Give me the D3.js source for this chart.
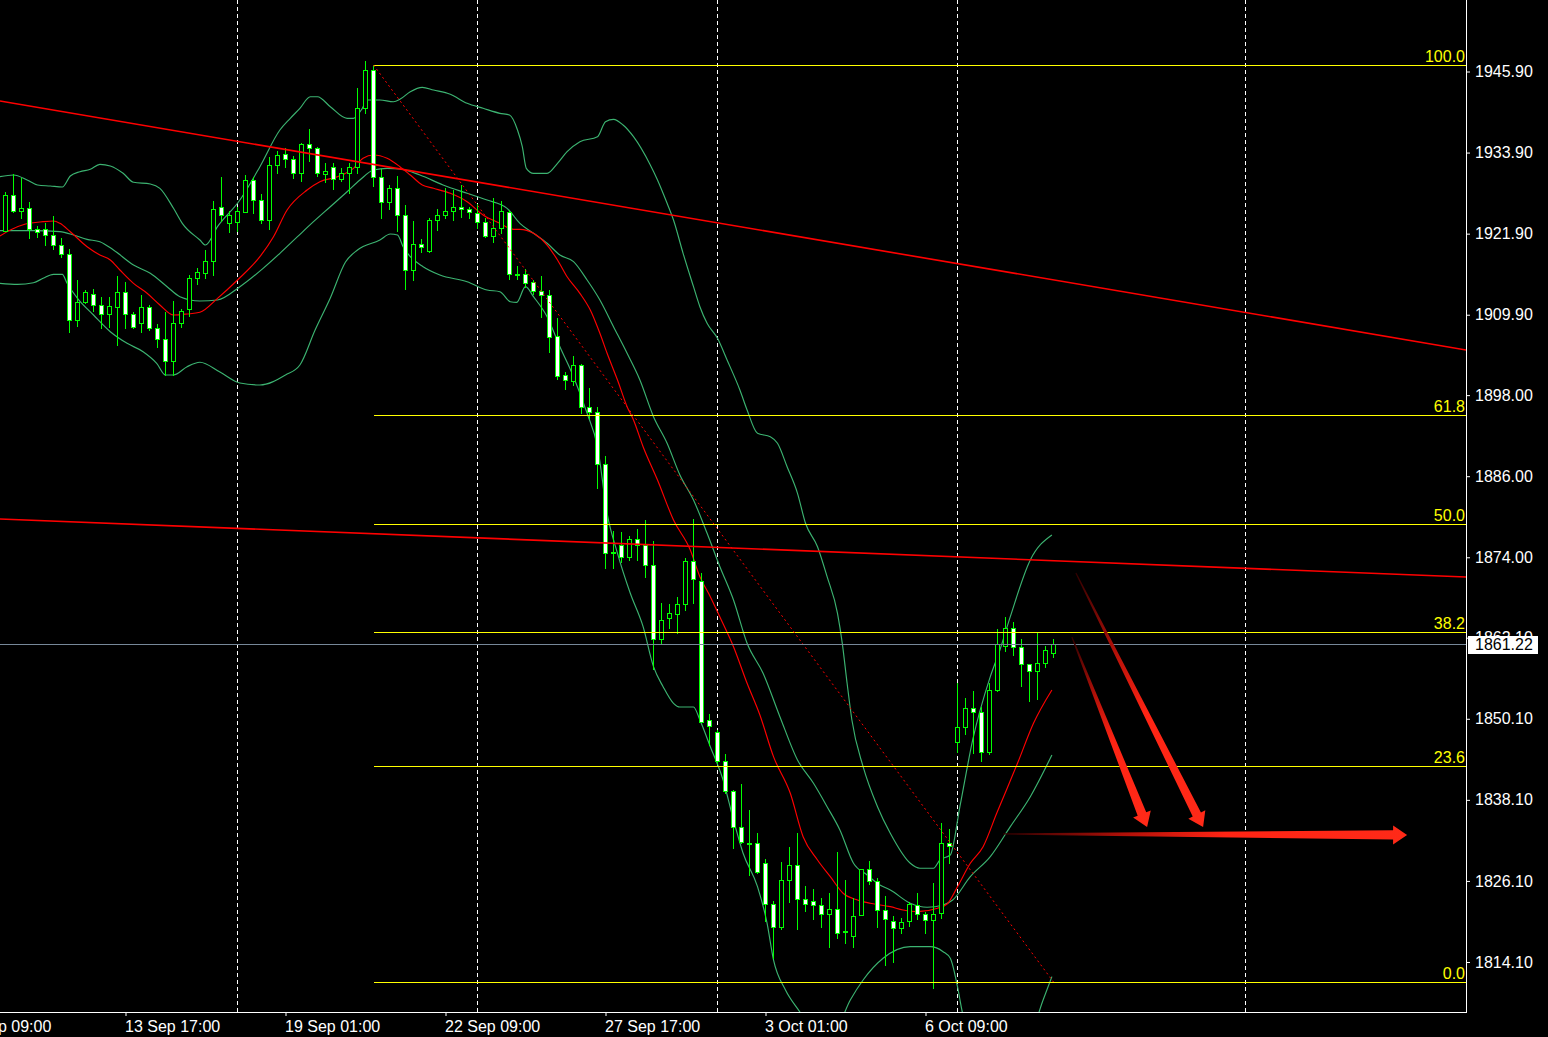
<!DOCTYPE html>
<html><head><meta charset="utf-8">
<script src="https://cdn.jsdelivr.net/npm/d3@7"></script>
<style>
html,body{margin:0;padding:0;background:#000;overflow:hidden;}
svg{display:block;}
</style></head><body>
<svg id="chart" width="1548" height="1037"></svg>
<script>
// ---------------- DATA ----------------
const opens = [1922.34,1927.58,1925.21,1925.65,1922.54,1922.54,1921.66,1920.18,1918.84,1909.08,1911.83,1912.92,1911.30,1910.05,1911.09,1913.22,1909.96,1908.63,1911.04,1907.89,1906.26,1903.01,1908.68,1910.70,1915.29,1916.12,1917.90,1925.80,1923.43,1923.58,1925.10,1929.80,1926.84,1923.88,1932.02,1933.64,1932.90,1930.83,1935.12,1934.53,1930.68,1931.72,1929.94,1930.83,1931.72,1940.45,1946.08,1930.33,1926.63,1928.61,1924.62,1916.48,1920.32,1919.38,1923.88,1924.62,1925.30,1925.80,1925.50,1924.91,1923.58,1921.60,1922.69,1925.06,1915.74,1915.88,1914.70,1913.37,1912.78,1906.71,1900.94,1900.14,1902.46,1896.20,1895.46,1887.76,1874.59,1875.78,1874.00,1876.75,1875.87,1872.82,1861.86,1864.97,1865.56,1867.04,1873.41,1870.45,1849.88,1848.10,1843.81,1839.37,1834.04,1831.63,1831.68,1828.71,1822.64,1819.24,1826.20,1828.42,1823.38,1823.09,1822.50,1821.16,1821.90,1818.50,1818.00,1821.10,1827.82,1826.05,1821.76,1820.22,1819.09,1820.17,1822.50,1821.16,1820.32,1821.31,1831.68,1846.62,1848.84,1851.65,1851.06,1845.14,1854.32,1860.92,1863.58,1860.68,1858.16,1857.22,1858.31,1859.79];
const highs = [1928.02,1930.73,1930.09,1926.54,1923.03,1923.43,1924.51,1921.21,1919.63,1915.04,1913.56,1913.71,1912.52,1912.52,1915.63,1914.74,1910.30,1912.82,1911.34,1908.53,1910.30,1911.89,1910.79,1915.78,1916.82,1919.48,1926.73,1930.33,1925.21,1925.89,1930.58,1930.33,1927.72,1933.29,1934.18,1934.53,1933.39,1935.27,1937.39,1934.77,1932.31,1932.31,1931.57,1932.31,1943.50,1947.45,1946.86,1931.42,1929.10,1930.43,1926.10,1923.77,1921.11,1924.17,1925.50,1928.61,1928.36,1929.10,1925.89,1926.24,1924.17,1927.13,1926.69,1925.40,1917.11,1916.67,1915.04,1915.63,1913.56,1909.46,1901.38,1903.79,1902.60,1899.01,1896.20,1888.99,1877.94,1877.70,1877.15,1878.19,1879.52,1876.41,1867.24,1867.09,1868.08,1873.85,1879.62,1871.63,1850.81,1848.44,1844.89,1839.56,1840.45,1836.60,1833.15,1829.35,1823.18,1828.90,1831.17,1833.15,1825.35,1824.86,1823.53,1824.27,1830.34,1826.24,1823.53,1827.87,1829.05,1826.54,1823.80,1820.91,1820.57,1823.03,1824.27,1821.55,1825.75,1834.63,1833.74,1855.44,1853.13,1854.21,1851.80,1855.44,1863.34,1865.12,1864.47,1861.86,1858.20,1862.75,1860.87,1861.91];
const lows = [1922.29,1925.10,1924.17,1921.21,1921.36,1920.22,1919.63,1918.49,1907.39,1908.28,1911.59,1910.50,1907.98,1908.08,1905.46,1907.98,1907.94,1907.39,1907.60,1905.08,1900.98,1900.98,1908.04,1909.71,1914.49,1915.34,1915.78,1923.82,1922.19,1922.29,1925.06,1925.00,1923.43,1922.63,1930.92,1931.72,1930.18,1929.74,1932.70,1930.48,1929.59,1928.46,1929.65,1927.87,1930.83,1939.71,1928.95,1924.17,1925.50,1922.29,1913.75,1915.08,1919.18,1919.23,1922.44,1924.17,1923.92,1924.41,1924.17,1922.69,1921.36,1920.71,1921.95,1915.14,1915.14,1914.05,1912.92,1909.61,1904.43,1900.43,1898.86,1899.50,1895.40,1894.57,1884.30,1872.46,1872.37,1873.35,1873.60,1873.60,1871.13,1857.42,1861.36,1863.49,1862.75,1866.20,1867.28,1849.62,1846.22,1843.56,1839.07,1830.93,1831.70,1826.98,1827.23,1820.22,1814.65,1818.94,1823.03,1819.03,1821.70,1820.51,1819.33,1816.37,1817.61,1816.87,1816.37,1821.06,1825.65,1819.33,1813.66,1814.15,1818.35,1819.48,1820.47,1818.35,1810.21,1820.66,1828.71,1845.23,1847.85,1844.99,1843.90,1844.89,1854.26,1860.18,1859.54,1854.95,1852.73,1853.03,1857.81,1859.20];
const closes = [1927.58,1925.21,1925.65,1922.54,1922.19,1921.66,1920.18,1918.84,1909.08,1911.83,1913.22,1911.30,1910.05,1911.19,1913.22,1909.96,1908.04,1911.04,1907.89,1906.26,1903.01,1908.68,1910.41,1915.29,1916.22,1917.90,1925.50,1924.62,1924.62,1925.21,1929.80,1926.84,1923.88,1932.02,1933.50,1932.90,1930.83,1935.12,1934.53,1930.83,1931.13,1929.94,1930.83,1931.72,1940.45,1946.08,1930.24,1926.63,1928.61,1924.62,1916.48,1920.37,1919.88,1923.88,1924.62,1925.21,1925.80,1925.50,1925.06,1923.58,1921.51,1922.69,1925.21,1915.88,1915.88,1914.64,1913.46,1912.78,1906.65,1900.88,1900.28,1902.46,1896.20,1895.46,1887.76,1874.59,1874.83,1874.00,1876.75,1875.78,1872.82,1861.86,1864.72,1865.71,1867.04,1873.41,1870.74,1849.67,1848.99,1843.81,1839.37,1834.04,1831.82,1831.72,1827.47,1822.64,1819.24,1826.20,1828.42,1823.38,1822.64,1822.50,1821.16,1821.90,1818.35,1818.62,1820.87,1827.82,1826.05,1821.76,1820.51,1819.09,1819.98,1822.64,1821.16,1820.32,1821.16,1831.68,1831.32,1848.84,1851.65,1851.06,1845.14,1854.32,1861.12,1863.49,1860.68,1858.16,1857.22,1858.31,1860.28,1861.22];

// Bollinger bands and moving average: [bar index, price]
const bbUpper = [[-0.7,1930.33],[1.0,1930.58],[2.7,1929.84],[4.0,1929.10],[5.6,1928.95],[7.1,1928.80],[8.1,1930.43],[9.3,1931.07],[10.6,1931.42],[11.8,1932.16],[13.1,1931.91],[14.7,1930.83],[16.0,1929.50],[18.1,1929.25],[19.3,1928.61],[21.0,1925.65],[22.1,1923.43],[24.3,1920.96],[25.0,1920.22],[26.5,1922.93],[29.3,1926.88],[31.8,1931.81],[34.3,1937.24],[35.6,1938.97],[36.8,1940.45],[38.1,1942.17],[39.0,1942.17],[40.6,1940.69],[42.7,1938.97],[43.5,1938.97],[44.6,1940.45],[45.2,1941.68],[46.8,1941.68],[48.5,1941.43],[49.3,1941.78],[50.6,1942.91],[52.1,1943.56],[53.5,1943.16],[55.6,1942.52],[57.7,1941.19],[59.7,1940.45],[61.8,1939.71],[63.0,1939.46],[64.0,1937.24],[64.6,1934.77],[65.1,1931.57],[66.0,1930.83],[67.7,1930.83],[69.0,1932.31],[70.2,1934.03],[71.8,1935.51],[74.0,1936.25],[75.0,1938.47],[76.0,1938.82],[77.2,1937.98],[78.5,1936.25],[80.6,1932.06],[81.5,1929.84],[82.7,1926.39],[83.5,1923.92],[84.7,1918.99],[86.0,1914.05],[86.8,1911.09],[87.7,1908.63],[89.0,1906.41],[90.2,1903.20],[91.8,1898.76],[92.7,1895.80],[94.0,1892.35],[95.6,1891.85],[96.5,1890.87],[97.7,1887.41],[99.0,1883.47],[100.0,1879.03],[101.5,1875.57],[102.7,1871.13],[104.0,1865.71],[104.6,1861.27],[105.2,1855.35],[105.8,1849.92],[107.2,1843.01],[109.0,1837.09],[110.6,1833.15],[113.1,1828.71],[114.3,1827.97],[116.0,1827.97],[116.8,1829.20],[118.1,1829.94],[119.3,1837.09],[120.9,1846.96],[123.1,1856.33],[124.3,1860.28],[125.6,1865.21],[128.1,1873.60],[130.8,1877.30]];
const bbMiddle = [[-0.7,1922.34],[3.5,1922.34],[6.8,1922.19],[8.5,1921.70],[10.2,1921.06],[11.8,1920.71],[13.5,1919.48],[16.0,1917.26],[18.1,1916.03],[20.2,1914.05],[21.8,1912.57],[24.3,1911.93],[26.5,1912.08],[29.3,1914.05],[32.2,1916.77],[34.3,1918.99],[36.5,1921.45],[38.5,1923.67],[40.6,1925.89],[42.7,1928.11],[44.3,1929.84],[46.0,1931.32],[47.7,1931.57],[49.3,1931.47],[51.8,1930.58],[54.7,1929.10],[57.7,1927.87],[60.2,1926.88],[62.7,1925.65],[64.3,1923.43],[66.0,1921.95],[67.7,1920.47],[69.3,1918.74],[71.0,1917.75],[72.7,1915.04],[74.3,1912.08],[76.0,1908.13],[77.7,1904.19],[79.3,1900.24],[81.0,1894.81],[82.7,1890.87],[84.3,1886.18],[86.0,1882.48],[87.7,1877.55],[89.3,1872.61],[91.0,1867.68],[92.7,1861.27],[94.7,1856.83],[96.8,1850.41],[99.0,1844.00],[101.0,1840.55],[102.7,1837.09],[104.3,1833.64],[106.0,1828.71],[107.7,1826.98],[109.3,1825.50],[110.6,1824.76],[113.1,1822.79],[115.2,1822.20],[117.2,1822.54],[118.4,1823.28],[120.6,1826.73],[123.1,1829.69],[125.6,1834.13],[128.1,1838.57],[130.8,1844.74]];
const bbLower = [[-0.7,1914.55],[1.5,1914.40],[3.5,1914.64],[4.7,1915.29],[6.0,1915.88],[7.1,1915.88],[7.7,1914.55],[9.0,1912.33],[11.0,1909.86],[13.1,1907.39],[15.2,1905.67],[17.2,1904.43],[18.9,1902.71],[20.0,1900.98],[21.0,1900.98],[22.7,1902.21],[24.3,1902.86],[26.8,1901.42],[29.3,1899.80],[31.8,1899.50],[35.0,1900.98],[36.8,1902.46],[38.7,1907.64],[40.6,1912.38],[42.5,1917.70],[44.0,1919.48],[46.8,1920.96],[48.1,1921.85],[49.0,1921.70],[49.7,1919.97],[50.6,1918.49],[52.2,1917.01],[54.3,1915.78],[57.7,1914.79],[60.2,1913.56],[61.8,1913.31],[63.1,1911.83],[63.9,1911.74],[65.0,1914.05],[66.0,1912.57],[67.7,1909.61],[69.3,1905.17],[71.0,1900.73],[72.7,1895.31],[74.0,1890.37],[75.2,1880.51],[76.5,1874.59],[78.1,1868.67],[79.7,1863.73],[81.0,1857.81],[82.2,1854.85],[83.5,1852.39],[84.3,1851.84],[86.0,1851.84],[86.8,1849.92],[88.1,1845.97],[89.7,1841.04],[91.0,1835.12],[92.2,1830.19],[94.0,1825.25],[95.2,1819.83],[96.0,1814.40],[97.5,1809.96],[99.3,1806.70],[101.2,1803.30],[103.7,1804.04],[105.6,1808.48],[107.2,1811.44],[109.7,1814.65],[113.1,1816.37],[115.6,1816.37],[117.2,1815.63],[118.1,1814.65],[119.0,1810.45],[119.6,1806.70],[121.2,1802.56],[124.3,1799.90],[128.1,1803.30],[129.7,1808.48],[130.8,1811.93]];
const movingAvg = [[-0.7,1921.55],[0.6,1922.44],[2.5,1923.33],[4.7,1923.67],[6.0,1923.77],[6.8,1923.43],[8.1,1922.19],[10.2,1919.97],[11.8,1918.74],[13.1,1918.00],[14.3,1916.52],[16.0,1914.55],[17.7,1913.07],[19.3,1911.34],[21.0,1909.86],[22.7,1910.01],[24.3,1910.26],[26.5,1912.33],[29.0,1915.04],[31.8,1918.49],[33.5,1921.45],[35.2,1925.40],[37.7,1928.36],[39.3,1929.59],[41.5,1930.33],[43.5,1931.57],[44.7,1933.05],[46.0,1933.54],[47.7,1933.05],[49.3,1931.81],[50.6,1930.58],[52.1,1929.10],[53.5,1928.61],[55.6,1927.87],[57.7,1926.63],[59.7,1924.66],[61.8,1923.43],[63.5,1922.54],[64.3,1922.54],[66.0,1921.95],[67.7,1920.22],[69.0,1918.00],[70.2,1915.53],[71.8,1913.07],[73.1,1910.60],[74.3,1907.15],[75.2,1904.19],[76.5,1900.24],[77.7,1896.29],[78.5,1894.32],[79.7,1890.37],[81.5,1885.44],[83.5,1879.52],[85.6,1875.08],[86.8,1871.13],[88.1,1868.17],[89.3,1865.16],[91.0,1860.77],[92.7,1855.35],[94.3,1850.66],[96.0,1844.49],[98.1,1839.07],[99.7,1832.65],[101.5,1829.20],[103.1,1826.73],[104.7,1824.27],[106.5,1823.28],[108.1,1822.79],[110.6,1822.29],[112.2,1821.80],[114.0,1821.55],[116.5,1822.05],[117.7,1822.69],[119.0,1825.25],[120.6,1828.71],[122.2,1831.17],[123.9,1836.11],[126.5,1843.51],[128.5,1849.43],[130.8,1854.36]];

// Trend lines drawn on the chart: [bar, price] anchor pairs
const trendLine1 = [[-0.7,1941.53],[182.6,1904.68]];
const trendLine2 = [[-0.7,1879.67],[182.6,1871.08]];

// Fibonacci retracement
const fibHigh = [46, 1946.86];
const fibLow = [131, 1811.14];
const fibLevels = [0, 23.6, 38.2, 50, 61.8, 100];

// Arrows (tail -> tip) in [bar, price]
const arrowTails = [[133.3,1862.20],[133.8,1871.68],[124.7,1833.05]];
const arrowTips  = [[142.7,1834.08],[149.7,1834.08],[175.2,1832.90]];

// Axes
const priceTicks = [1945.90,1933.90,1921.90,1909.90,1898.00,1886.00,1874.00,1862.10,1850.10,1838.10,1826.10,1814.10];
const priceTickLabels = ["1945.90","1933.90","1921.90","1909.90","1898.00","1886.00","1874.00","1862.10","1850.10","1838.10","1826.10","1814.10"];
const timeTickBars = [-5,15,35,55,75,95,115];
const timeTickLabels = ["8 Sep 09:00","13 Sep 17:00","19 Sep 01:00","22 Sep 09:00","27 Sep 17:00","3 Oct 01:00","6 Oct 09:00"];
const gridBars = [29,59,89,119,155];
const currentPrice = 1861.22;

// ---------------- DRAW ----------------
const plotR = 1466, plotB = 1012;
const FONT = '"Liberation Sans", Arial, sans-serif';
const svg = d3.select('#chart');
svg.append('rect').attr('width',1548).attr('height',1037).attr('fill','#000');

const x = d3.scaleLinear().domain([0,1]).range([5.5,13.5]);
const y = d3.scaleLinear().domain([1814.10,1945.90]).range([962.0,71.5]);

const defs = svg.append('defs');
defs.append('clipPath').attr('id','plotClip').append('rect')
  .attr('x',0).attr('y',0).attr('width',plotR).attr('height',plotB);

const plot = svg.append('g').attr('clip-path','url(#plotClip)');

// grid
plot.append('g').selectAll('line').data(gridBars).join('line')
  .attr('x1',d=>Math.floor(x(d))+0.5).attr('x2',d=>Math.floor(x(d))+0.5)
  .attr('y1',0).attr('y2',plotB)
  .attr('stroke','#ffffff').attr('stroke-width',1).attr('stroke-dasharray','4,3')
  .attr('shape-rendering','crispEdges');

// indicators
const line = d3.line().x(d=>x(d[0])).y(d=>y(d[1])).curve(d3.curveMonotoneX);
[[bbUpper,'#3cb371'],[bbMiddle,'#3cb371'],[bbLower,'#3cb371'],[movingAvg,'#ff0000']].forEach(([data,col])=>{
  plot.append('path').datum(data).attr('d',line)
    .attr('fill','none').attr('stroke',col).attr('stroke-width',1.15);
});

// candles
const idx = d3.range(closes.length);
const cg = plot.append('g');
cg.selectAll('line.wick').data(idx).join('line').attr('class','wick')
  .attr('x1',i=>x(i)).attr('x2',i=>x(i))
  .attr('y1',i=>Math.round(y(highs[i]))).attr('y2',i=>Math.round(y(lows[i]))+1)
  .attr('stroke','#00ff00').attr('stroke-width',1).attr('shape-rendering','crispEdges');
cg.selectAll('rect.body').data(idx).join('rect').attr('class','body')
  .attr('x',i=>x(i)-2)
  .attr('y',i=>Math.round(y(Math.max(opens[i],closes[i])))+0.5)
  .attr('width',4)
  .attr('height',i=>Math.max(Math.round(y(Math.min(opens[i],closes[i])))-Math.round(y(Math.max(opens[i],closes[i]))),1))
  .attr('fill',i=>closes[i]>=opens[i]?'#000':'#fff')
  .attr('stroke','#00ff00').attr('stroke-width',1).attr('shape-rendering','crispEdges');

// trend lines
const sline = d3.line().x(d=>x(d[0])).y(d=>y(d[1]));
[trendLine1,trendLine2].forEach(t=>{
  plot.append('path').datum(t).attr('d',sline).attr('fill','none')
    .attr('stroke','#ff0000').attr('stroke-width',1.6);
});

// fibonacci
const fibPrice = l => fibLow[1] + (fibHigh[1]-fibLow[1])*l/100;
const fg = plot.append('g');
fg.selectAll('line').data(fibLevels).join('line')
  .attr('x1',x(fibHigh[0])).attr('x2',plotR)
  .attr('y1',d=>Math.round(y(fibPrice(d)))+0.5).attr('y2',d=>Math.round(y(fibPrice(d)))+0.5)
  .attr('stroke','#ffff00').attr('stroke-width',1).attr('shape-rendering','crispEdges');
fg.selectAll('text').data(fibLevels).join('text')
  .attr('x',plotR-1).attr('y',d=>Math.round(y(fibPrice(d)))-3)
  .attr('text-anchor','end').attr('fill','#ffff00')
  .attr('font-family',FONT).attr('font-size',16)
  .text(d=>d.toFixed(1));
plot.append('path').datum([fibHigh,fibLow]).attr('d',sline).attr('fill','none')
  .attr('stroke','#ff0000').attr('stroke-width',1).attr('stroke-dasharray','2,3');

// bid line
plot.append('line').attr('x1',0).attr('x2',plotR)
  .attr('y1',Math.round(y(currentPrice))+0.5).attr('y2',Math.round(y(currentPrice))+0.5)
  .attr('stroke','#778899').attr('stroke-width',1).attr('shape-rendering','crispEdges');

// arrows
arrowTails.forEach((tail,i)=>{
  const tip = arrowTips[i];
  const T=[x(tail[0]),y(tail[1])], P=[x(tip[0]),y(tip[1])];
  const dx=P[0]-T[0], dy=P[1]-T[1], len=Math.hypot(dx,dy);
  const u=[dx/len,dy/len], n=[-u[1],u[0]];
  const hl=14, hw=9.5, w0=0.6, w1=4.6;
  const B=[P[0]-u[0]*hl, P[1]-u[1]*hl];
  const pt=(p,k)=>[p[0]+n[0]*k, p[1]+n[1]*k];
  const pts=[pt(T,w0),pt(B,w1),pt(B,hw),P,pt(B,-hw),pt(B,-w1),pt(T,-w0)];
  const g = defs.append('linearGradient').attr('id','ag'+i).attr('gradientUnits','userSpaceOnUse')
    .attr('x1',T[0]).attr('y1',T[1]).attr('x2',P[0]).attr('y2',P[1]);
  g.append('stop').attr('offset',0).attr('stop-color','#300000');
  g.append('stop').attr('offset',0.3).attr('stop-color','#b01008');
  g.append('stop').attr('offset',0.55).attr('stop-color','#ff2414');
  g.append('stop').attr('offset',1).attr('stop-color','#ff2a18');
  plot.append('path').attr('d','M'+pts.map(p=>p.join(',')).join('L')+'Z')
    .attr('fill','url(#ag'+i+')');
});

// axes
const yAxis = d3.axisRight(y).tickValues(priceTicks)
  .tickFormat((d,i)=>priceTickLabels[i]).tickSize(4).tickPadding(5);
svg.append('g').attr('transform',`translate(${plotR},0)`).attr('color','#ffffff').call(yAxis)
  .call(g=>g.select('.domain').remove())
  .call(g=>g.selectAll('text').attr('font-family',FONT).attr('font-size',16).attr('fill','#ffffff'));

const xAxis = d3.axisBottom(x).tickValues(timeTickBars)
  .tickFormat((d,i)=>timeTickLabels[i]).tickSize(4).tickPadding(5);
svg.append('g').attr('transform',`translate(0,${plotB})`).attr('color','#ffffff').call(xAxis)
  .call(g=>g.select('.domain').remove())
  .call(g=>g.selectAll('text').attr('font-family',FONT).attr('font-size',16)
    .attr('text-anchor','start').attr('x',-1).attr('fill','#ffffff'));

svg.append('line').attr('x1',plotR+0.5).attr('x2',plotR+0.5).attr('y1',0).attr('y2',plotB+0.5)
  .attr('stroke','#fff').attr('stroke-width',1).attr('shape-rendering','crispEdges');
svg.append('line').attr('x1',0).attr('x2',plotR+1).attr('y1',plotB+0.5).attr('y2',plotB+0.5)
  .attr('stroke','#fff').attr('stroke-width',1).attr('shape-rendering','crispEdges');

// current price box
const cy = Math.round(y(currentPrice));
svg.append('rect').attr('x',plotR+2).attr('y',cy-8).attr('width',70).attr('height',18).attr('fill','#ffffff');
svg.append('text').attr('x',plotR+9).attr('y',cy).attr('dy','0.36em')
  .attr('font-family',FONT).attr('font-size',16).attr('fill','#000')
  .text(currentPrice.toFixed(2));
</script>
</body></html>
